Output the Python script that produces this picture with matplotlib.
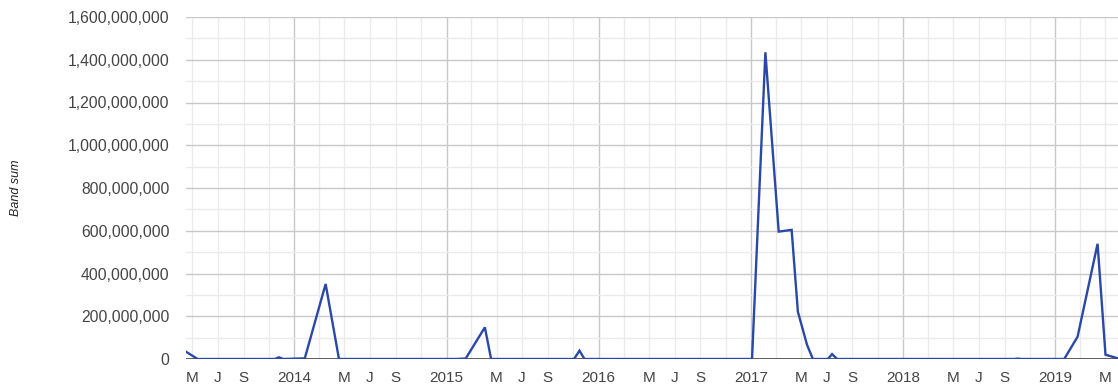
import matplotlib
matplotlib.use("Agg")
import matplotlib.pyplot as plt
import matplotlib.dates as mdates
from matplotlib.ticker import FixedLocator, FixedFormatter, FuncFormatter
import numpy as np
import datetime as dt

# ---- data ----
dates = [
    "2013-04-16", "2013-05-14", "2013-11-15", "2013-11-25", "2013-12-05",
    "2014-01-26", "2014-03-17", "2014-04-18",
    "2015-01-23", "2015-02-16", "2015-04-03", "2015-04-18",
    "2015-11-03", "2015-11-16", "2015-11-28",
    "2017-01-03", "2017-02-04", "2017-03-08", "2017-04-08", "2017-04-23",
    "2017-05-15", "2017-05-29",
    "2017-07-04", "2017-07-14", "2017-07-26",
    "2018-09-25", "2018-10-03", "2018-10-11",
    "2019-01-22", "2019-02-23", "2019-04-12", "2019-05-01", "2019-05-31",
]
values = [
    34e6, 0, 0, 8e6, 0,
    3e6, 351e6, 0,
    0, 2e6, 148e6, 0,
    0, 39e6, 0,
    0, 1435e6, 596e6, 604e6, 221e6,
    66e6, 0,
    0, 23e6, 0,
    0, 2e6, 0,
    0, 104e6, 539e6, 20e6, 3e6,
]
year_ticks = ["2014-01-01", "2015-01-01", "2016-01-01", "2017-01-01", "2018-01-01", "2019-01-01"]
year_labels = ["2014", "2015", "2016", "2017", "2018", "2019"]
month_ticks = []
month_labels = []
for y in range(2013, 2020):
    for m, lab in [(3, ""), (5, "M"), (7, "J"), (9, "S"), (11, "")]:
        month_ticks.append(f"{y}-{m:02d}-01")
        month_labels.append(lab)
y_major = np.arange(0, 1.6e9 + 1, 2e8)
y_minor = np.arange(1e8, 1.6e9, 2e8)
x_start, x_end = "2013-04-16", "2019-05-31"

def d2n(s):
    return mdates.date2num(dt.datetime.strptime(s, "%Y-%m-%d"))

plt.rcParams['font.family'] = ['Liberation Sans', 'DejaVu Sans']

fig = plt.figure(figsize=(11.18, 3.92), dpi=100)
ax = fig.add_axes([186/1118, 33/392, 1 - 186/1118, 342/392])

xn = [d2n(s) for s in dates]
ax.plot(xn, values, color='#2A48A6', lw=1.7, zorder=5, solid_joinstyle='miter')
ax.axhline(0, color='#444444', lw=1.2, zorder=4)

ax.set_xlim(d2n(x_start), d2n(x_end))
ax.set_ylim(0, 1.6e9)

ax.xaxis.set_major_locator(FixedLocator([d2n(s) for s in year_ticks]))
ax.xaxis.set_major_formatter(FixedFormatter(year_labels))
ax.xaxis.set_minor_locator(FixedLocator([d2n(s) for s in month_ticks]))
ax.xaxis.set_minor_formatter(FixedFormatter(month_labels))

ax.yaxis.set_major_locator(FixedLocator(list(y_major)))
ax.yaxis.set_minor_locator(FixedLocator(list(y_minor)))
ax.yaxis.set_major_formatter(FuncFormatter(lambda v, p: f"{int(round(v)):,}"))

ax.grid(which='major', color='#c8c8c8', lw=1.0)
ax.grid(which='minor', color='#ebebeb', lw=1.0)
ax.set_axisbelow(True)

for sp in ax.spines.values():
    sp.set_visible(False)

ax.tick_params(axis='x', which='both', length=0, pad=8.5, labelsize=11, labelcolor='#444444')
ax.tick_params(axis='y', which='both', length=0, pad=12, labelsize=11.3, labelcolor='#444444')

ax.set_ylabel("Band sum", fontsize=9, fontstyle='italic', color='#222222')
ax.yaxis.set_label_coords(-0.176, 0.5)

fig.savefig("out.png", dpi=100)
